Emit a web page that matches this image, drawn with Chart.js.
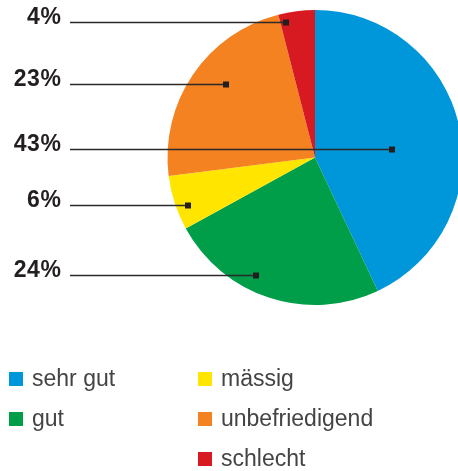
<!DOCTYPE html>
<html>
<head>
<meta charset="utf-8">
<script src="https://cdn.jsdelivr.net/npm/chart.js@4"></script>
<style>
  html, body { margin: 0; padding: 0; background: #ffffff; overflow: hidden; }
  #wrap { position: relative; width: 458px; height: 471px; }
</style>
</head>
<body>
<div id="wrap"><canvas id="c" width="458" height="471"></canvas></div>
<script>
// ---- data ----
const categories = ["sehr gut", "gut", "mässig", "unbefriedigend", "schlecht"];
const values = [43, 24, 6, 23, 4];
const valueLabels = ["43%", "24%", "6%", "23%", "4%"];

// ---- styling / layout (not data) ----
const colors = ["#0096da", "#009e48", "#ffe500", "#f58220", "#d71a21"];
// callout marker placement inside each slice: fraction along the arc's angle, fraction of radius
const calloutAngleFrac = [0.543, 0.60, 0.375, 0.563, 0.17];
const calloutRadiusFrac = [0.525, 0.89, 0.92, 0.78, 0.94];
// legend layout: column for each category, row for each category
const legendCol = [0, 0, 1, 1, 1];
const legendRow = [0, 1, 0, 1, 2];

const calloutPlugin = {
  id: 'callouts',
  afterDraw(chart) {
    const ctx = chart.ctx;
    const meta = chart.getDatasetMeta(0);
    ctx.save();
    meta.data.forEach((arc, i) => {
      const p = arc.getProps(['x', 'y', 'startAngle', 'endAngle', 'outerRadius'], true);
      const a = p.startAngle + (p.endAngle - p.startAngle) * calloutAngleFrac[i];
      const r = p.outerRadius * calloutRadiusFrac[i];
      const mx = Math.round(p.x + Math.cos(a) * r);
      const my = Math.round(p.y + Math.sin(a) * r);
      // leader line
      ctx.strokeStyle = '#2a2a2a';
      ctx.lineWidth = 1.3;
      ctx.beginPath();
      ctx.moveTo(70, my + 0.5);
      ctx.lineTo(mx, my + 0.5);
      ctx.stroke();
      // marker
      ctx.fillStyle = '#231f20';
      ctx.fillRect(mx - 3, my - 2.5, 6, 6);
      // value label
      ctx.font = 'bold 23px "Liberation Sans", Arial, sans-serif';
      if ('letterSpacing' in ctx) ctx.letterSpacing = '0.6px';
      ctx.textAlign = 'right';
      ctx.textBaseline = 'alphabetic';
      ctx.fillStyle = '#231f20';
      ctx.fillText(valueLabels[i], 61.5, my + 2);
      if ('letterSpacing' in ctx) ctx.letterSpacing = '0px';
    });
    // legend
    const colX = [9, 198];
    const rowBase = [386, 426, 466];
    ctx.font = '23px "Liberation Sans", Arial, sans-serif';
    ctx.textAlign = 'left';
    ctx.textBaseline = 'alphabetic';
    categories.forEach((name, i) => {
      const x = colX[legendCol[i]];
      const yb = rowBase[legendRow[i]];
      ctx.fillStyle = colors[i];
      ctx.fillRect(x, yb - 14, 14, 14);
      ctx.fillStyle = '#444444';
      ctx.fillText(name, x + 23, yb);
    });
    ctx.restore();
  }
};

new Chart(document.getElementById('c'), {
  type: 'pie',
  data: {
    labels: categories,
    datasets: [{
      data: values,
      backgroundColor: colors,
      borderWidth: 0,
      clip: false
    }]
  },
  options: {
    responsive: false,
    animation: false,
    radius: 147.5,
    layout: { padding: { left: 172, right: 0, top: 10, bottom: 166 } },
    plugins: {
      legend: { display: false },
      tooltip: { enabled: false }
    }
  },
  plugins: [calloutPlugin]
});
</script>
</body>
</html>
